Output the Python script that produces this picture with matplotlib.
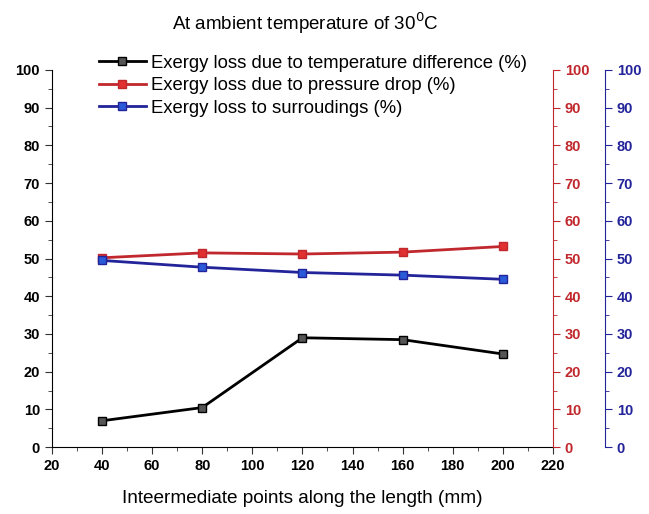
"""
Exergy loss breakdown along the length at 30 C ambient
"""
import matplotlib
matplotlib.use("Agg")
import matplotlib.pyplot as plt
from matplotlib.ticker import MultipleLocator

plt.rcParams["font.family"] = ["Liberation Sans", "DejaVu Sans"]

positions_mm = [40, 80, 120, 160, 200]
loss_temp_diff = [7.0, 10.5, 29.0, 28.5, 24.7]
loss_pressure_drop = [50.2, 51.5, 51.2, 51.7, 53.2]
loss_surroundings = [49.5, 47.7, 46.3, 45.6, 44.5]

labels = ["Exergy loss due to temperature difference (%)",
          "Exergy loss due to pressure drop (%)",
          "Exergy loss to surroudings (%)"]

red = "#c0282d"
blue = "#23239a"

fig = plt.figure(figsize=(6.49, 5.14), dpi=100)
ax = fig.add_axes([0.080, 0.130, 0.772, 0.734])
ax_red = ax.twinx()
ax_blue = ax.twinx()
ax_blue.spines["right"].set_position(("outward", 37.5))

l1, = ax.plot(positions_mm, loss_temp_diff, color="black", lw=2,
              marker="s", ms=6, mfc="#555555", mec="black", label=labels[0])
l2, = ax_red.plot(positions_mm, loss_pressure_drop, color=red, lw=2,
                  marker="s", ms=6, mfc="#e03030", mec=red, label=labels[1])
l3, = ax_blue.plot(positions_mm, loss_surroundings, color=blue, lw=2,
                   marker="s", ms=6, mfc="#2a5ad8", mec=blue, label=labels[2])

ax.set_xlim(20, 220)
for a in (ax, ax_red, ax_blue):
    a.set_ylim(0, 100)
    a.yaxis.set_major_locator(MultipleLocator(10))
    a.yaxis.set_minor_locator(MultipleLocator(5))
    a.spines["top"].set_visible(False)
ax.xaxis.set_major_locator(MultipleLocator(20))
ax.xaxis.set_minor_locator(MultipleLocator(10))

# spines and tick styling
ax.spines["right"].set_visible(False)
ax_red.spines["left"].set_visible(False)
ax_red.spines["bottom"].set_visible(False)
ax_blue.spines["left"].set_visible(False)
ax_blue.spines["bottom"].set_visible(False)
ax_red.spines["right"].set_color(red)
ax_blue.spines["right"].set_color(blue)

ax.tick_params(which="both", direction="out", labelsize=10.5, color="#333333")
ax.tick_params(which="major", length=5)
ax.tick_params(which="minor", length=3)
for a, c in ((ax_red, red), (ax_blue, blue)):
    a.tick_params(which="both", direction="out", colors=c, labelsize=10.5)
    a.tick_params(which="major", length=5)
    a.tick_params(which="minor", length=3)
for a in (ax, ax_red, ax_blue):
    for t in a.get_yticklabels() + a.get_xticklabels():
        t.set_fontweight("bold")

ax.set_xlabel("Inteermediate points along the length (mm)", fontsize=13.7, labelpad=12)
fig.text(305 / 649, 1 - 23 / 514, "At ambient temperature of 30$^0$C",
         ha="center", va="center", fontsize=13.5)

ax.legend(handles=[l1, l2, l3], loc="upper left", bbox_to_anchor=(0.08, 1.06),
          frameon=False, fontsize=13.3, handlelength=2.5, handletextpad=0.3,
          labelspacing=0.3, borderaxespad=0)

fig.savefig("out.png", dpi=100)
